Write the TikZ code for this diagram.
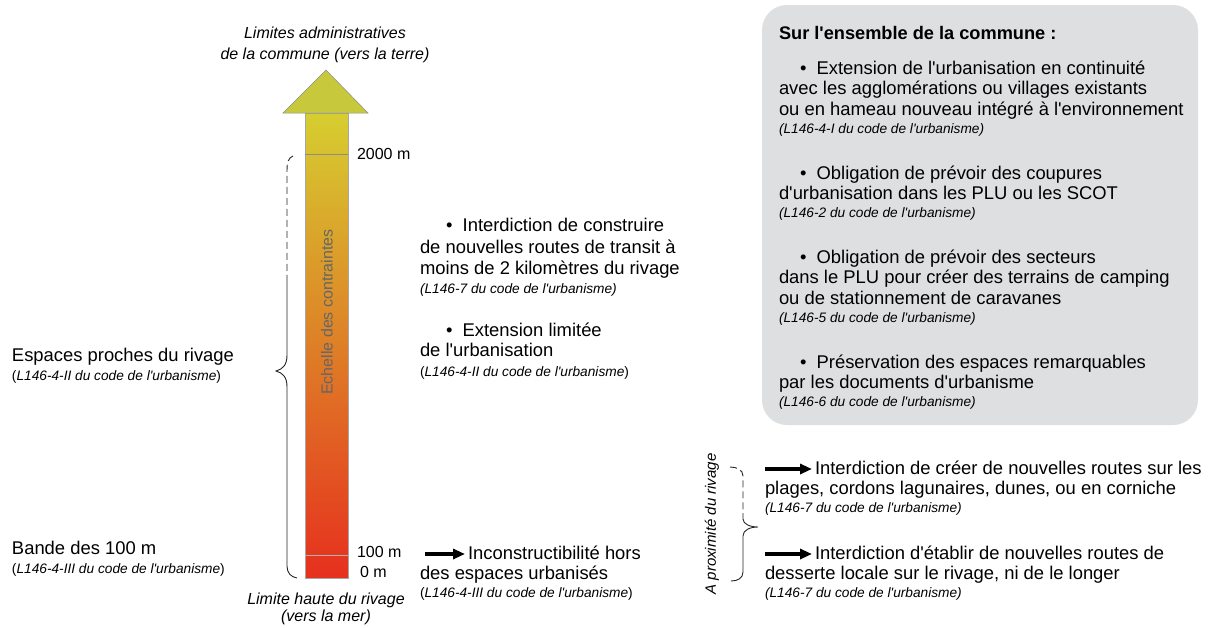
\documentclass[tikz,border=0pt]{standalone}
\usepackage{fontspec}
\setmainfont{Liberation Sans}[Ligatures=TeXOff]
\usetikzlibrary{arrows.meta}
\definecolor{boxgray}{RGB}{222,223,225}
\definecolor{headyel}{RGB}{200,200,60}
\definecolor{baryel}{RGB}{214,206,48}
\definecolor{barorange}{RGB}{236,140,40}
\definecolor{barred}{RGB}{230,48,30}
\begin{document}
\begin{tikzpicture}[x=1pt,y=-1pt,
  every node/.style={inner sep=0pt,outer sep=0pt},
  main/.style={font=\fontsize{18.4}{21}\selectfont,anchor=base west},
  small/.style={font=\fontsize{13.7}{16}\selectfont\itshape,anchor=base west},
  smallu/.style={font=\fontsize{13.7}{16}\selectfont,anchor=base west},
  boldt/.style={font=\fontsize{18.2}{21}\selectfont\bfseries,anchor=base west},
  lab/.style={font=\fontsize{16}{18}\selectfont,anchor=base west},
  ital/.style={font=\fontsize{16}{18}\selectfont\itshape,anchor=base},
  blk/.style={line width=3.4pt,-{Triangle[length=12pt,width=10pt]},shorten >=3pt},
  bracel/.style={line width=0.9pt,black!85},
  tick/.style={line width=0.6pt,black!45}]
\useasboundingbox (0,0) rectangle (1213,627);

% grey box
\fill[boxgray,rounded corners=25pt] (762,5) rectangle (1198,425);

% scale arrow
\shade[top color=baryel,middle color=barorange,bottom color=barred,draw=black!35,line width=0.5pt]
  (305,113) rectangle (348,578);
\fill[headyel,draw=black!45,line width=0.5pt] (283,113) -- (326,70) -- (368,113) -- cycle;
\coordinate (t2a) at (305,154); \coordinate (t2b) at (348,154);
\coordinate (t1a) at (305,555); \coordinate (t1b) at (348,555);
\draw[tick] (t2a) -- (t2b);
\draw[tick,black!30] (t1a) -- (t1b);
\node[font=\fontsize{16}{18}\selectfont,text=black!60,rotate=90] (ech) at (327,312) {Echelle des contraintes};

\node[ital] (top1) at (325,38) {Limites administratives};
\node[ital] (top2) at (325,59) {de la commune (vers la terre)};
\node[lab] (m2000) at (357,159) {2000 m};
\node[lab] (m100) at (357,557) {100 m};
\node[lab] (m0) at (360,577) {0 m};
\node[ital] (bot1) at (326,604) {Limite haute du rivage};
\node[ital] (bot2) at (326,621) {(vers la mer)};

% left brace
\draw[bracel,dashed,dash pattern=on 7pt off 4pt] (293,156) .. controls (288,158) and (287,163) .. (287,170) -- (287,275);
\draw[bracel] (287,275) -- (287,355) .. controls (287,365) and (283,369) .. (276,371)
  .. controls (283,373) and (287,377) .. (287,387) -- (287,566) .. controls (287,573) and (291,577) .. (297,578);

\node[main] (esp1) at (12,361) {Espaces proches du rivage};
\node[smallu] (esp2) at (12,380) {(\textit{L146-4-II du code de l'urbanisme})};
\node[main] (ban1) at (12,554) {Bande des 100 m};
\node[smallu] (ban2) at (12,573) {(\textit{L146-4-III du code de l'urbanisme})};

% middle block
\node[main] (c1) at (446,231) {\textbullet\ \ Interdiction de construire};
\node[main] (c2) at (420,253) {de nouvelles routes de transit à};
\node[main] (c3) at (420,274) {moins de 2 kilomètres du rivage};
\node[small] (c4) at (420,293) {(L146-7 du code de l'urbanisme)};
\node[main] (d1) at (446,336) {\textbullet\ \ Extension limitée};
\node[main] (d2) at (420,356) {de l'urbanisation};
\node[smallu] (d3) at (420,376) {(\textit{L146-4-II du code de l'urbanisme})};

\coordinate (ia) at (425,554);
\node[main] (i1) at (468,559) {Inconstructibilité hors};
\draw[blk] (ia) -- (i1.west |- ia);
\node[main] (i2) at (420,579) {des espaces urbanisés};
\node[smallu] (i3) at (420,597) {(\textit{L146-4-III du code de l'urbanisme})};

% box text
\node[boldt] (bt) at (779,39) {Sur l'ensemble de la commune :};
\node[main] (b11) at (800,74) {\textbullet\ \ Extension de l'urbanisation en continuité};
\node[main] (b12) at (779,94.5) {avec les agglomérations ou villages existants};
\node[main] (b13) at (779,115) {ou en hameau nouveau intégré à l'environnement};
\node[small] (b14) at (779,133) {(L146-4-I du code de l'urbanisme)};
\node[main] (b21) at (800,179) {\textbullet\ \ Obligation de prévoir des coupures};
\node[main] (b22) at (779,199.5) {d'urbanisation dans les PLU ou les SCOT};
\node[small] (b23) at (779,217.5) {(L146-2 du code de l'urbanisme)};
\node[main] (b31) at (800,263) {\textbullet\ \ Obligation de prévoir des secteurs};
\node[main] (b32) at (779,283.5) {dans le PLU pour créer des terrains de camping};
\node[main] (b33) at (779,304) {ou de stationnement de caravanes};
\node[small] (b34) at (779,322) {(L146-5 du code de l'urbanisme)};
\node[main] (b41) at (800,368) {\textbullet\ \ Préservation des espaces remarquables};
\node[main] (b42) at (779,388.5) {par les documents d'urbanisme};
\node[small] (b43) at (779,406.5) {(L146-6 du code de l'urbanisme)};

% bottom right
\node[font=\fontsize{15}{17}\selectfont\itshape,rotate=90] (prox) at (712,524) {A proximité du rivage};
\draw[bracel,dashed,dash pattern=on 7pt off 4pt] (730,467) .. controls (737,467) and (743,470) .. (743,476) -- (743,513);
\draw[bracel] (743,513) -- (743,519) .. controls (743,524) and (750,527) .. (758,527)
  .. controls (750,527) and (743,530) .. (743,536) -- (743,572) .. controls (743,578) and (738,581) .. (731,581);

\coordinate (ra) at (765,469);
\node[main] (r1) at (815,474) {Interdiction de créer de nouvelles routes sur les};
\draw[blk] (ra) -- (r1.west |- ra);
\node[main] (r2) at (765,494) {plages, cordons lagunaires, dunes, ou en corniche};
\node[small] (r3) at (765,512) {(L146-7 du code de l'urbanisme)};
\coordinate (sa) at (765,554);
\node[main] (s1) at (815,559) {Interdiction d'établir de nouvelles routes de};
\draw[blk] (sa) -- (s1.west |- sa);
\node[main] (s2) at (765,579) {desserte locale sur le rivage, ni de le longer};
\node[small] (s3) at (765,597) {(L146-7 du code de l'urbanisme)};
\end{tikzpicture}
\end{document}
